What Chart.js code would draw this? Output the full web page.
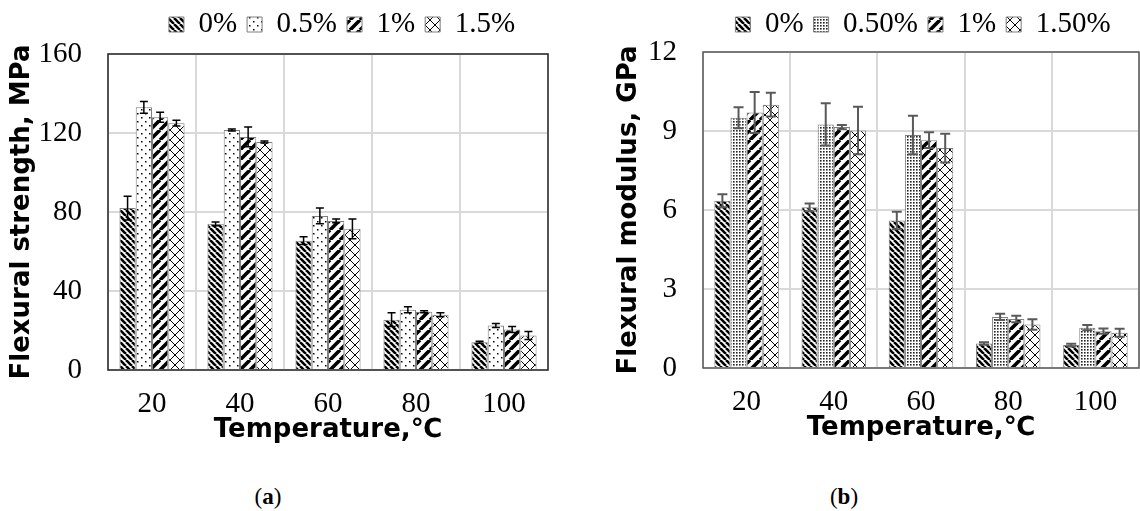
<!DOCTYPE html>
<html>
<head>
<meta charset="utf-8">
<script src="https://cdn.jsdelivr.net/npm/chart.js@4"></script>
<style>
  body { margin: 0; background: #fff; width: 1140px; height: 511px; position: relative; overflow: hidden; }
  .box { position: absolute; top: 0; }
  .cap { position: absolute; top: 484px; font-family: 'Liberation Serif', serif; font-size: 23px; color: #000; transform: translateX(-50%); }
</style>
</head>
<body>
<div class="box" style="left:0;width:570px;height:446px"><canvas id="chartA"></canvas></div>
<div class="box" style="left:570px;width:570px;height:446px"><canvas id="chartB"></canvas></div>
<div class="cap" style="left:268px">(<b>a</b>)</div>
<div class="cap" style="left:844px">(<b>b</b>)</div>
<script>
// data
var temps = ['20', '40', '60', '80', '100'];

var strengthLabels = ['0%', '0.5%', '1%', '1.5%'];
var strength0  = [82, 74, 65.5, 25.5, 14];
var strength05 = [133, 121.5, 78, 30.5, 22.5];
var strength1  = [128, 118, 75.5, 29.5, 20.5];
var strength15 = [125, 115.5, 71.5, 28, 17.5];
var strengthErr0  = [6, 1, 2, 3.5, 0.5];
var strengthErr05 = [3, 0.5, 4, 1.5, 1];
var strengthErr1  = [2.5, 5, 1, 0.5, 1.5];
var strengthErr15 = [1.5, 0.5, 5, 1, 2];

var modulusLabels = ['0%', '0.50%', '1%', '1.50%'];
var modulus0  = [6.35, 6.1, 5.6, 0.93, 0.87];
var modulus05 = [9.5, 9.25, 8.85, 1.94, 1.53];
var modulus1  = [9.7, 9.15, 8.65, 1.86, 1.4];
var modulus15 = [10.0, 9.02, 8.35, 1.65, 1.34];
var modulusErr0  = [0.25, 0.15, 0.33, 0.05, 0.05];
var modulusErr05 = [0.4, 0.8, 0.73, 0.12, 0.1];
var modulusErr1  = [0.78, 0.08, 0.3, 0.12, 0.1];
var modulusErr15 = [0.45, 0.9, 0.55, 0.2, 0.15];

// fill patterns like the excel ones
function makePattern(kind) {
    var c = document.createElement('canvas');
    var s = {down: 6, up: 10, cross: 10, dots: 8, grid: 3}[kind];
    c.width = s; c.height = s;
    var g = c.getContext('2d');
    g.fillStyle = '#fff';
    g.fillRect(0, 0, s, s);
    g.strokeStyle = '#000';
    g.fillStyle = '#000';
    if (kind == 'down' || kind == 'cross') {
        g.lineWidth = kind == 'down' ? 2.6 : 1;
        g.beginPath();
        for (var k = -s; k <= s; k += s) { g.moveTo(k, 0); g.lineTo(k + s, s); }
        g.stroke();
    }
    if (kind == 'up' || kind == 'cross') {
        g.lineWidth = kind == 'up' ? 3.6 : 1;
        g.beginPath();
        for (var k = -s; k <= s; k += s) { g.moveTo(k, s); g.lineTo(k + s, 0); }
        g.stroke();
    }
    if (kind == 'dots') {
        g.fillRect(1, 1, 1.5, 1.5);
        g.fillRect(5, 5, 1.5, 1.5);
    }
    if (kind == 'grid') {
        g.fillStyle = '#222';
        g.fillRect(1, 1, 1.6, 1.6);
    }
    return g.createPattern(c, 'repeat');
}

var tickFont = { family: 'Liberation Serif', size: 29 };
var titleFont = { family: 'DejaVu Sans', size: 26, weight: 'bold' };

// error bars + plot frame
var errorBars = {
    id: 'errorBars',
    afterDatasetsDraw: function(chart, args, opts) {
        var ctx = chart.ctx;
        var y = chart.scales.y;
        ctx.save();
        ctx.strokeStyle = opts.color;
        ctx.lineWidth = opts.width;
        chart.data.datasets.forEach(function(ds, i) {
            var meta = chart.getDatasetMeta(i);
            meta.data.forEach(function(bar, j) {
                var v = ds.data[j], e = ds.errors[j];
                var yt = y.getPixelForValue(v + e), yb = y.getPixelForValue(v - e);
                ctx.beginPath();
                ctx.moveTo(bar.x, yt); ctx.lineTo(bar.x, yb);
                ctx.moveTo(bar.x - opts.cap, yt); ctx.lineTo(bar.x + opts.cap, yt);
                ctx.moveTo(bar.x - opts.cap, yb); ctx.lineTo(bar.x + opts.cap, yb);
                ctx.stroke();
            });
        });
        var a = chart.chartArea;
        ctx.strokeStyle = opts.frame;
        ctx.lineWidth = 1.5;
        ctx.strokeRect(a.left, a.top, a.right - a.left, a.bottom - a.top);
        ctx.restore();
    }
};

// extra room under the legend, and a sideways nudge
var legendGap = {
    id: 'legendGap',
    beforeInit: function(chart) {
        var fit = chart.legend.fit;
        chart.legend.fit = function() {
            fit.bind(chart.legend)();
            this.height += chart.options.plugins.legendGap.extra;
        };
    },
    afterLayout: function(chart, args, opts) {
        chart.legend.left += opts.shift;
        chart.legend.right += opts.shift;
    }
};

function makeChart(id, labels, series, errs, dotKind, yTitle, yMax, yStep, o) {
    var fills = [makePattern('down'), makePattern(dotKind), makePattern('up'), makePattern('cross')];
    var datasets = series.map(function(d, i) {
        return {
            label: labels[i],
            data: d,
            errors: errs[i],
            backgroundColor: fills[i],
            borderColor: '#7f7f7f',
            borderWidth: 1,
            categoryPercentage: 0.74,
            barPercentage: 1
        };
    });
    return new Chart(document.getElementById(id), {
        type: 'bar',
        data: { labels: temps, datasets: datasets },
        plugins: [errorBars, legendGap],
        options: {
            responsive: true,
            maintainAspectRatio: false,
            animation: false,
            layout: { padding: o.padding },
            plugins: {
                legend: {
                    position: 'top',
                    fullSize: false,
                    labels: {
                        color: '#000',
                        font: { family: 'Liberation Serif', size: 29 },
                        boxWidth: 15,
                        boxHeight: 15,
                        padding: 10
                    }
                },
                tooltip: { enabled: false },
                errorBars: { color: o.errColor, width: o.errWidth, cap: o.cap, frame: o.frame },
                legendGap: { extra: o.legendExtra, shift: o.legendShift }
            },
            scales: {
                x: {
                    afterFit: function(scale) { scale.height = 76; },
                    grid: { color: '#d9d9d9', lineWidth: 2, drawTicks: false },
                    border: { display: false },
                    ticks: { color: '#000', font: tickFont, padding: 17, maxRotation: 0 },
                    title: { display: true, text: 'Temperature,℃', color: '#000', font: titleFont, padding: 0 }
                },
                y: {
                    min: 0,
                    max: yMax,
                    afterFit: function(scale) { scale.width = o.yWidth; },
                    grid: { color: '#d9d9d9', lineWidth: 2, drawTicks: false },
                    border: { display: false },
                    ticks: { color: '#000', font: tickFont, padding: 26, stepSize: yStep },
                    title: { display: true, text: yTitle, color: '#000', font: titleFont, padding: { top: o.titlePad, bottom: 0 } }
                }
            }
        }
    });
}

makeChart('chartA', strengthLabels,
    [strength0, strength05, strength1, strength15],
    [strengthErr0, strengthErr05, strengthErr1, strengthErr15],
    'dots', 'Flexural strength, MPa', 160, 40,
    { padding: { left: 0, right: 22, top: 0, bottom: 0 }, yWidth: 108, titlePad: 7,
      legendExtra: 5, legendShift: 14, errColor: '#000', errWidth: 1.5, cap: 4, frame: '#262626' });

makeChart('chartB', modulusLabels,
    [modulus0, modulus05, modulus1, modulus15],
    [modulusErr0, modulusErr05, modulusErr1, modulusErr15],
    'grid', 'Flexural modulus, GPa', 12, 3,
    { padding: { left: 0, right: 1, top: 0, bottom: 2 }, yWidth: 133, titlePad: 44,
      legendExtra: 3, legendShift: 2, errColor: '#595959', errWidth: 2, cap: 5, frame: '#595959' });
</script>
</body>
</html>
